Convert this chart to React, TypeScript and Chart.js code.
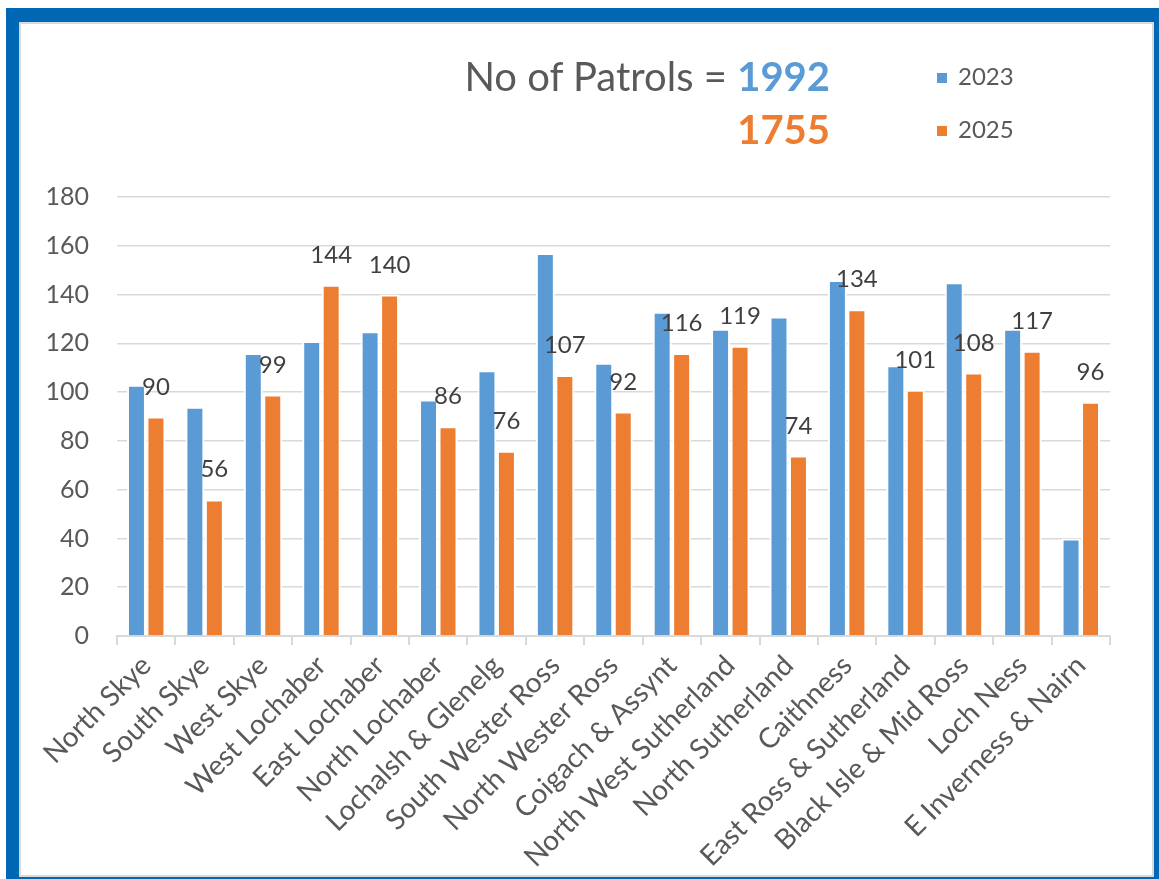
import React, { useEffect, useRef } from "react";
import { Chart, registerables } from "chart.js";

Chart.register(...registerables);

const categories = [
  "North Skye",
  "South Skye",
  "West Skye",
  "West Lochaber",
  "East Lochaber",
  "North Lochaber",
  "Lochalsh & Glenelg",
  "South Wester Ross",
  "North Wester Ross",
  "Coigach & Assynt",
  "North West Sutherland",
  "North Sutherland",
  "Caithness",
  "East Ross & Sutherland",
  "Black Isle & Mid Ross",
  "Loch Ness",
  "E Inverness & Nairn",
];

const values2023 = [103, 94, 116, 121, 125, 97, 109, 157, 112, 133, 126, 131, 146, 111, 145, 126, 40];
const values2025 = [90, 56, 99, 144, 140, 86, 76, 107, 92, 116, 119, 74, 134, 101, 108, 117, 96];

const seriesNames = ["2023", "2025"];
const seriesColors = ["#5B9BD5", "#ED7D31"];
const yMin = 0;
const yMax = 180;
const yStep = 20;

const total2023 = values2023.reduce((a, b) => a + b, 0);
const total2025 = values2025.reduce((a, b) => a + b, 0);

const FONT = "Lato, 'Open Sans', sans-serif";

const dataLabelPlugin = {
  id: "dataLabels2025",
  afterDatasetsDraw(chart: any) {
    const ctx = chart.ctx;
    const meta = chart.getDatasetMeta(1);
    ctx.save();
    ctx.font = `24px ${FONT}`;
    ctx.fillStyle = "#404040";
    ctx.textAlign = "center";
    ctx.textBaseline = "alphabetic";
    meta.data.forEach((bar: any, i: number) => {
      ctx.fillText(String(values2025[i]), bar.x, bar.y - 22);
    });
    ctx.restore();
  },
};

function BarChart() {
  const canvasRef = useRef<HTMLCanvasElement | null>(null);

  useEffect(() => {
    let chart: Chart | null = null;
    let cancelled = false;
    const make = () => {
      if (cancelled || !canvasRef.current) return;
      chart = new Chart(canvasRef.current, {
        type: "bar",
        data: {
          labels: categories,
          datasets: [
            {
              label: seriesNames[0],
              data: values2023,
              backgroundColor: seriesColors[0],
              borderColor: "#FFFFFF",
              borderWidth: 2,
              categoryPercentage: 0.667,
              barPercentage: 0.974,
            },
            {
              label: seriesNames[1],
              data: values2025,
              backgroundColor: seriesColors[1],
              borderColor: "#FFFFFF",
              borderWidth: 2,
              categoryPercentage: 0.667,
              barPercentage: 0.974,
            },
          ],
        },
        options: {
          animation: false,
          responsive: false,
          maintainAspectRatio: false,
          devicePixelRatio: 1,
          layout: { padding: { left: 0, right: 49, top: 197, bottom: 0 } },
          plugins: {
            legend: { display: false },
            title: { display: false },
            tooltip: { enabled: false },
          },
          scales: {
            x: {
              offset: true,
              grid: {
                offset: true,
                drawOnChartArea: false,
                drawTicks: true,
                tickLength: 9,
                color: "#D9D9D9",
                lineWidth: 2,
              },
              border: { display: true, color: "#D9D9D9", width: 2 },
              ticks: {
                color: "#595959",
                font: { family: FONT, size: 28 },
                minRotation: 45,
                maxRotation: 45,
                autoSkip: false,
                padding: 4,
              },
              afterFit(scale: any) {
                scale.height = 879 - 636;
              },
            },
            y: {
              min: yMin,
              max: yMax,
              grid: {
                drawTicks: false,
                color: "#D9D9D9",
                lineWidth: 1.5,
              },
              border: { display: false },
              ticks: {
                stepSize: yStep,
                color: "#595959",
                font: { family: FONT, size: 25 },
                padding: 28,
              },
              afterFit(scale: any) {
                scale.width = 117;
              },
            },
          },
        },
        plugins: [dataLabelPlugin],
      });
    };
    if ((document as any).fonts && (document as any).fonts.load) {
      Promise.all([
        (document as any).fonts.load(`25px Lato`),
        (document as any).fonts.load(`bold 40px Lato`),
      ])
        .catch(() => null)
        .then(make);
    } else {
      make();
    }
    return () => {
      cancelled = true;
      if (chart) chart.destroy();
    };
  }, []);

  return (
    <canvas
      ref={canvasRef}
      width={1159}
      height={879}
      style={{ position: "absolute", left: 0, top: 0, width: 1159, height: 879 }}
    />
  );
}

export default function App() {
  return (
    <div
      style={{
        position: "fixed",
        left: 0,
        top: 0,
        width: 1159,
        height: 879,
        overflow: "hidden",
        background: "#FFFFFF",
        fontFamily: FONT,
      }}
    >
      <BarChart />
      {/* Title */}
      <div
        style={{
          position: "absolute",
          right: 1159 - 830,
          top: 56,
          fontSize: 40,
          lineHeight: "40px",
          color: "#595959",
          whiteSpace: "nowrap",
          textAlign: "right",
        }}
      >
        No of Patrols ={" "}
        <span style={{ fontWeight: 700, color: seriesColors[0] }}>{total2023}</span>
      </div>
      <div
        style={{
          position: "absolute",
          right: 1159 - 830,
          top: 109,
          fontSize: 40,
          lineHeight: "40px",
          fontWeight: 700,
          color: seriesColors[1],
          whiteSpace: "nowrap",
          textAlign: "right",
        }}
      >
        {total2025}
      </div>
      {/* Legend */}
      {seriesNames.map((name, i) => (
        <div
          key={name}
          style={{
            position: "absolute",
            left: 937,
            top: 64 + i * 53,
            height: 24,
            display: "flex",
            alignItems: "center",
            whiteSpace: "nowrap",
          }}
        >
          <span
            style={{
              display: "inline-block",
              width: 10,
              height: 10,
              background: seriesColors[i],
              marginRight: 11,
              marginTop: 4,
            }}
          />
          <span style={{ fontSize: 24, lineHeight: "24px", color: "#595959" }}>{name}</span>
        </div>
      ))}
      {/* Frame */}
      <div
        style={{
          position: "absolute",
          left: 6,
          top: 8,
          width: 1161,
          height: 882,
          boxSizing: "border-box",
          borderStyle: "solid",
          borderColor: "#0067B4",
          borderWidth: "14px 13px 13px 13px",
          pointerEvents: "none",
        }}
      >
        <div
          style={{
            position: "absolute",
            left: 0,
            top: 0,
            right: 0,
            bottom: 0,
            border: "2px solid #D9D9D9",
          }}
        />
      </div>
    </div>
  );
}
